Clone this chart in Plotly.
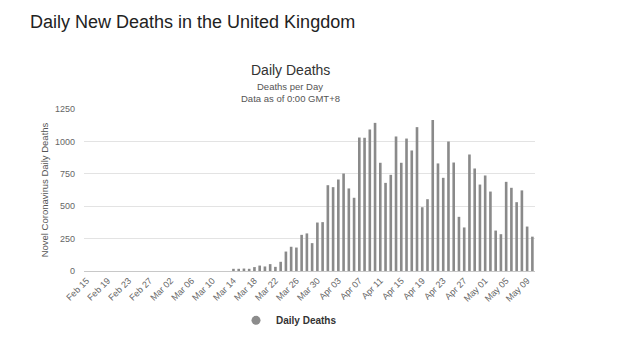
import datetime as dt
import plotly.graph_objects as go

# ---- data ----
start = dt.date(2020, 2, 15)
n_days = 86
dates = [(start + dt.timedelta(days=i)) for i in range(n_days)]
categories = [d.strftime("%b %d") for d in dates]

# Feb 15 .. Mar 13 : no visible deaths
early_deaths = [0] * 28
# Mar 14 .. May 10
later_deaths = [
    17, 17, 19, 17, 30, 42, 35, 53, 32, 71,          # Mar 14-23
    150, 187, 181, 279, 290, 215, 374, 377,          # Mar 24-31
    662, 647, 706, 752, 637, 565, 1030, 1028, 1092, 1143,   # Apr 1-10
    835, 680, 742, 1038, 835, 1022, 930, 1110, 492, 554,    # Apr 11-20
    1165, 830, 719, 999, 837, 418, 336, 899, 791, 667,      # Apr 21-30
    737, 613, 312, 284, 688, 642, 531, 622, 343, 265,       # May 1-10
]
deaths = early_deaths + later_deaths

tick_labels = categories[::4]
y_ticks = [0, 250, 500, 750, 1000, 1250]

series_name = "Daily Deaths"

# ---- figure ----
fig = go.Figure()
fig.add_trace(go.Bar(
    x=categories, y=deaths, name=series_name, showlegend=False,
    marker=dict(color="#8a8a8a", line=dict(width=0)),
))
fig.add_trace(go.Scatter(
    x=[None], y=[None], mode="markers", name=series_name,
    marker=dict(symbol="circle", size=9, color="#8c8c8c"),
))

font_family = "Liberation Sans, Arial, sans-serif"
L, R, T, B = 84, 86, 109, 72.5
pw, ph = 621 - L - R, 344 - T - B


def px_x(x):
    return (x - L) / pw


def px_y(y):
    return (344 - B - y) / ph


fig.update_layout(
    width=621, height=344,
    margin=dict(l=L, r=R, t=T, b=B, autoexpand=False),
    paper_bgcolor="white", plot_bgcolor="white",
    font=dict(family=font_family, color="#666666", size=9),
    bargap=0.5,
    title=dict(text="Daily New Deaths in the United Kingdom",
               x=30 / 621, xanchor="left", xref="container",
               y=1 - 22 / 344, yanchor="middle", yref="container",
               font=dict(size=18, color="#222222", family=font_family)),
    showlegend=True,
    legend=dict(orientation="h", x=px_x(236), xanchor="left", y=px_y(321), yanchor="middle",
                font=dict(size=10, color="#333333", family=font_family, weight="bold"),
                bgcolor="rgba(0,0,0,0)", itemwidth=30, tracegroupgap=0),
    xaxis=dict(type="category", categoryorder="array", categoryarray=categories,
               tickmode="array", tickvals=tick_labels, ticktext=tick_labels,
               tickangle=-45, showgrid=False, showline=True, linecolor="#c8c8c8",
               linewidth=1, ticks="", tickfont=dict(size=9, color="#666666"),
               range=[-0.5, n_days - 0.5], automargin=False),
    yaxis=dict(range=[0, 1250], tickvals=y_ticks, showgrid=True, gridcolor="#e3e3e3",
               gridwidth=1, zeroline=False, ticks="", ticklabelstandoff=8,
               tickfont=dict(size=9, color="#666666"), automargin=False,
               title=dict(text="Novel Coronavirus Daily Deaths", standoff=4,
                          font=dict(size=9.5, color="#555555"))),
    annotations=[
        dict(text="Daily Deaths", x=px_x(290), y=px_y(70), xref="paper", yref="paper",
             xanchor="center", yanchor="middle", showarrow=False,
             font=dict(size=14, color="#333333")),
        dict(text="Deaths per Day", x=px_x(290), y=px_y(86), xref="paper", yref="paper",
             xanchor="center", yanchor="middle", showarrow=False,
             font=dict(size=9.5, color="#555555")),
        dict(text="Data as of 0:00 GMT+8", x=px_x(290), y=px_y(98), xref="paper", yref="paper",
             xanchor="center", yanchor="middle", showarrow=False,
             font=dict(size=9.5, color="#555555")),
    ],
)

fig.write_html("out.html")
